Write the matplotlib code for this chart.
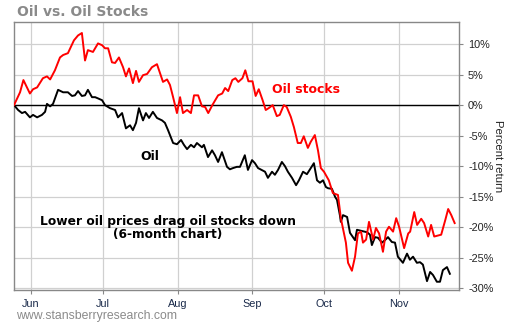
import datetime as dt

import matplotlib
matplotlib.use('Agg')
from matplotlib import pyplot as plt
import matplotlib.dates as mdates

# days counted from the first session shown, percent return since then
START = dt.datetime(2014, 5, 25)

stocks_days = [0.0, 2.5, 3.9, 6.6, 7.9, 9.6, 12.0, 13.7, 15.0, 17.0, 19.1, 20.4, 22.4, 24.9, 26.6, 28.2,
               29.5, 30.7, 32.8, 34.9, 36.6, 37.8, 39.1, 40.7, 42.0, 43.6, 45.3, 46.5, 47.8, 49.4, 50.7,
               51.9, 53.6, 55.3, 57.3, 59.4, 61.9, 63.6, 64.8, 66.1, 67.7, 69.0, 70.2, 71.9, 73.5, 74.8,
               76.5, 78.1, 79.4, 80.7, 82.4, 84.8, 86.5, 87.7, 89.0, 90.7, 92.0, 93.2, 94.9, 96.1, 97.4,
               99.1, 100.4, 101.7, 103.3, 104.6, 105.8, 107.5, 109.2, 110.4, 112.1, 113.3, 115.0, 116.3,
               117.9, 119.2, 120.4, 122.1, 123.3, 125.0, 126.3, 127.5, 128.8, 130.8, 132.5, 134.6, 135.4,
               135.8, 137.9, 138.8, 140.4, 141.7, 142.9, 144.2, 145.0, 146.3, 147.5, 149.2, 150.4, 151.7,
               153.3, 154.6, 155.8, 157.5, 158.8, 160.0, 162.1, 163.8, 164.6, 166.3, 167.5, 169.2, 170.4,
               172.1, 173.3, 174.6, 177.5, 179.2, 180.4, 181.7, 183.1]
stocks_pct = [0.0, 2.1, 4.1, 1.9, 2.6, 2.9, 4.4, 4.7, 4.2, 5.7, 7.8, 8.2, 8.5, 10.6, 11.4, 11.8,
              7.3, 9.0, 8.7, 10.1, 9.8, 9.3, 9.3, 7.0, 6.9, 7.8, 6.2, 4.7, 6.0, 3.6, 5.6,
              3.8, 4.9, 5.1, 6.2, 6.7, 3.8, 4.2, 3.3, 1.3, -1.3, 1.3, -1.3, -0.8, -1.3, 1.6,
              1.6, -0.2, -0.3, -1.3, 0.0, 1.6, 1.9, 2.8, 2.3, 4.1, 4.4, 3.8, 4.4, 5.7, 3.9,
              3.9, 1.5, 2.6, 0.8, -0.8, -0.5, 0.0, -1.8, -1.6, 0.0, -0.3, -1.9, -3.6,
              -6.2, -6.2, -5.1, -7.0, -6.0, -4.9, -7.4, -10.3, -10.9, -12.3, -14.4, -14.7, -17.2,
              -18.5, -22.5, -25.8, -27.1, -24.8, -21.0, -20.7, -22.5, -22.0, -19.1, -22.0, -20.1, -21.0,
              -24.0, -20.7, -19.9, -20.7, -18.5, -19.9, -23.4, -21.0, -20.7, -17.5, -19.6, -18.6, -19.3,
              -21.5, -19.6, -21.5, -21.2, -18.8, -17.0, -18.0, -19.3]

oil_days = [0.0, 1.7, 3.3, 4.6, 6.6, 7.9, 9.6, 11.6, 12.9, 13.7, 15.0, 16.2, 18.3, 20.4, 22.4, 24.1,
            25.3, 26.6, 28.2, 29.5, 30.7, 32.4, 33.7, 34.9, 36.6, 37.8, 39.9, 42.0, 43.2, 44.9, 46.5,
            48.2, 49.4, 50.7, 51.9, 53.6, 54.8, 56.1, 57.7, 59.4, 61.5, 62.7, 64.0, 66.1, 67.7, 69.4,
            70.6, 71.9, 73.5, 74.8, 76.0, 78.1, 78.9, 80.6, 82.3, 83.5, 84.8, 86.4, 88.5, 89.7, 91.0,
            92.6, 93.9, 95.9, 97.2, 98.9, 100.1, 101.4, 104.3, 105.5, 107.2, 108.4, 109.7, 111.3,
            112.6, 113.8, 115.5, 117.2, 118.4, 120.1, 121.7, 123.0, 124.6, 125.9, 127.1, 128.4, 129.6,
            130.5, 132.1, 133.4, 134.2, 135.4, 135.8, 136.7, 138.4, 139.6, 141.7, 142.5, 144.6, 146.7,
            147.9, 148.7, 150.0, 151.2, 152.9, 154.1, 155.4, 157.0, 158.3, 159.5, 161.6, 163.3, 164.5,
            165.8, 167.4, 168.7, 169.9, 171.6, 172.9, 174.1, 175.7, 177.0, 178.2, 179.9, 181.1]
oil_pct = [0.0, -0.8, -1.3, -1.1, -2.0, -1.6, -2.0, -1.6, -1.1, 0.2, -0.2, 0.2, 2.5, 2.1, 2.1, 1.5,
           1.6, 2.3, 1.5, 1.6, 2.5, 1.3, 1.3, 1.1, 0.8, 0.0, -0.5, -0.8, -2.0, -1.3, -3.8,
           -3.3, -4.1, -2.9, -0.5, -2.5, -1.3, -2.1, -1.1, -2.1, -2.5, -2.9, -4.1, -6.2, -6.4, -5.7,
           -6.5, -7.2, -6.5, -6.9, -6.2, -6.9, -6.5, -8.5, -7.4, -8.2, -9.3, -7.7, -10.1, -10.5, -10.3,
           -10.1, -10.1, -8.2, -10.6, -9.0, -9.5, -10.3, -10.9, -11.9, -10.9, -11.4, -10.6, -9.3,
           -10.0, -10.9, -11.9, -13.1, -12.3, -10.9, -11.3, -10.5, -9.5, -12.3, -12.7, -12.3, -13.4,
           -13.6, -13.7, -15.0, -15.5, -18.0, -19.1, -18.0, -18.3, -20.9, -22.1, -20.4, -20.6, -20.8,
           -21.2, -22.9, -21.6, -21.7, -22.5, -22.1, -21.6, -22.4, -22.5, -24.8, -25.8, -24.3, -25.3,
           -24.8, -25.8, -25.7, -26.1, -28.8, -27.3, -27.8, -28.9, -28.9, -27.0, -26.5, -27.6]

month_starts = [dt.datetime(2014, m, 1) for m in range(6, 12)]
pct_ticks = [10, 5, 0, -5, -10, -15, -20, -25, -30]


def to_dates(days):
    return [START + dt.timedelta(days=d) for d in days]


plt.rcParams['font.family'] = ['Liberation Sans', 'DejaVu Sans']

fig = plt.figure(figsize=(5.10, 3.25), dpi=100)
ax = fig.add_axes([0.0275, 0.1077, 0.8725, 0.8246])

ax.plot(to_dates(oil_days), oil_pct, color='black', lw=1.4, zorder=3)
ax.plot(to_dates(stocks_days), stocks_pct, color='#ff0000', lw=1.4, zorder=4)
ax.axhline(0, color='black', lw=1.0, zorder=2)

ax.set_xlim(START, START + dt.timedelta(days=184.9))
ax.set_ylim(-30.25, 13.6)

ax.set_xticks(month_starts)
ax.xaxis.set_major_formatter(mdates.DateFormatter('%b'))
ax.set_yticks(pct_ticks)
ax.set_yticklabels(['{}%'.format(t) for t in pct_ticks])
ax.yaxis.tick_right()
ax.yaxis.set_label_position('right')
ax.set_ylabel('Percent return', rotation=270, labelpad=7, fontsize=8.2, color='#222222')

ax.grid(True, color='#d0d0d0', lw=0.9, zorder=0)
ax.tick_params(axis='both', length=3, width=0.8, color='#888888', labelsize=7.8,
               labelcolor='#222222', pad=3.5)
ax.tick_params(axis='x', labelcolor='#1a2a4a')
for spine in ax.spines.values():
    spine.set_color('#888888')
    spine.set_linewidth(1.0)

bold = dict(family='DejaVu Sans', fontweight='bold')
ax.text(to_dates([107])[0], 3.7, 'Oil stocks', color='#ff0000', fontsize=9, va='top', **bold)
ax.text(to_dates([52.5])[0], -7.3, 'Oil', color='black', fontsize=9, va='top', **bold)
ax.text(to_dates([64])[0], -17.9, 'Lower oil prices drag oil stocks down\n(6-month chart)',
        color='black', fontsize=8.8, ha='center', va='top', linespacing=1.0, **bold)

fig.text(0.033, 0.985, 'Oil vs. Oil Stocks', color='#8a8a8a', fontsize=10, va='top', **bold)
fig.text(0.031, 0.008, 'www.stansberryresearch.com', color='#8a8a8a', fontsize=8.8, va='bottom')

fig.savefig('out.png', dpi=100)
